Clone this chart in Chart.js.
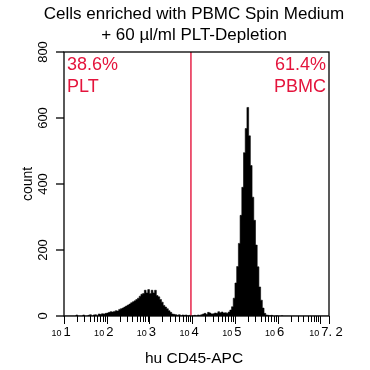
<!DOCTYPE html>
<html>
<head>
<meta charset="utf-8">
<script src="https://cdn.jsdelivr.net/npm/chart.js@4.4.1/dist/chart.umd.min.js"></script>
<style>
  html, body { margin: 0; padding: 0; background: #fff; }
</style>
</head>
<body>
<canvas id="chart" width="370" height="370"></canvas>
<script>
// histogram: log10 bins of hu CD45-APC intensity
const binStart = 1.0;
const binWidth = 0.04;
const counts = [
  0, 0, 0, 0, 0, 0, 0, 3, 0, 0,
  0, 3, 0, 0, 2, 4, 0, 3, 4, 1,
  6, 5, 7, 6, 8, 9, 11, 13, 12, 14,
  16, 15, 20, 22, 24, 27, 30, 33, 36, 40,
  43, 46, 50, 54, 60, 66, 68, 78, 70, 80,
  68, 78, 70, 78, 62, 58, 50, 42, 32, 27,
  22, 16, 11, 6, 5, 4, 2, 4, 1, 3,
  2, 3, 1, 2, 0, 1, 2, 1, 3, 2,
  4, 6, 8, 5, 11, 9, 6, 7, 9, 8,
  13, 10, 12, 9, 10, 8, 12, 18, 28, 54,
  100, 150, 220, 305, 390, 495, 568, 632, 546, 456,
  360, 290, 215, 149, 88, 48, 24, 8, 3, 2,
  1, 2, 0, 0, 1, 0, 0, 1, 0, 0,
  0, 0, 0, 0, 0, 0, 0, 0, 0, 0,
  0, 0, 0, 0, 0, 0, 0, 0, 0, 0,
  0, 0, 0, 0, 0
];
const xMajorTicks = [1, 2, 3, 4, 5, 6, 7, 7.2];
const xLabelValues = [1, 2, 3, 4, 5, 6, 7.2];
const xLabelExponents = ['1', '2', '3', '4', '5', '6', '7. 2'];
const yTickValues = [0, 200, 400, 600, 800];
const gatePosition = 3.97;
const gateLeft = ['38.6%', 'PLT'];
const gateRight = ['61.4%', 'PBMC'];
const titleLines = ['Cells enriched with PBMC Spin Medium', '+ 60 \u00b5l/ml PLT-Depletion'];

const red = 'rgb(228, 20, 60)';
const font = '"Liberation Sans", Arial, sans-serif';

const axesPlugin = {
    id: 'axes',
    afterDraw(chart) {
        const { ctx, chartArea: a, scales: { x, y } } = chart;
        ctx.save();

        // frame
        ctx.strokeStyle = '#000';
        ctx.lineWidth = 1.3;
        ctx.strokeRect(a.left, a.top, a.right - a.left, a.bottom - a.top);

        // y ticks + rotated labels
        ctx.fillStyle = '#000';
        ctx.font = `13px ${font}`;
        ctx.textAlign = 'center';
        ctx.textBaseline = 'middle';
        yTickValues.forEach(v => {
            const py = y.getPixelForValue(v);
            ctx.beginPath();
            ctx.moveTo(a.left - 8, py);
            ctx.lineTo(a.left, py);
            ctx.stroke();
            ctx.save();
            ctx.translate(43, py);
            ctx.rotate(-Math.PI / 2);
            ctx.fillText(String(v), 0, 0);
            ctx.restore();
        });

        // x major + minor ticks (log decades)
        ctx.lineWidth = 1;
        xMajorTicks.forEach(v => {
            const px = Math.round(x.getPixelForValue(v)) + 0.5;
            ctx.beginPath();
            ctx.moveTo(px, a.bottom);
            ctx.lineTo(px, a.bottom + 8);
            ctx.stroke();
        });
        for (let d = 1; d < 7.2; d++) {
            for (let m = 2; m <= 9; m++) {
                const v = d + Math.log10(m);
                if (v > 7.2) break;
                const px = Math.round(x.getPixelForValue(v)) + 0.5;
                ctx.beginPath();
                ctx.moveTo(px, a.bottom);
                ctx.lineTo(px, a.bottom + 6);
                ctx.stroke();
            }
        }

        // x tick labels: small "10" + larger exponent
        ctx.textBaseline = 'alphabetic';
        ctx.textAlign = 'left';
        xLabelValues.forEach((v, i) => {
            const px = x.getPixelForValue(v);
            ctx.font = `9px ${font}`;
            const wBase = ctx.measureText('10').width;
            ctx.font = `13px ${font}`;
            const wExp = ctx.measureText(xLabelExponents[i]).width;
            const start = px - 3 - (wBase + 2 + wExp) / 2;
            ctx.font = `9px ${font}`;
            ctx.fillText('10', start, 336);
            ctx.font = `13px ${font}`;
            ctx.fillText(xLabelExponents[i], start + wBase + 2, 336);
        });

        // axis titles
        ctx.textAlign = 'center';
        ctx.font = `15.5px ${font}`;
        ctx.fillText('hu CD45-APC', 194, 363);
        ctx.save();
        ctx.translate(32, (a.top + a.bottom) / 2);
        ctx.rotate(-Math.PI / 2);
        ctx.font = `14px ${font}`;
        ctx.fillText('count', 0, 0);
        ctx.restore();

        // chart title
        ctx.font = `17px ${font}`;
        ctx.fillText(titleLines[0], 194, 19);
        ctx.fillText(titleLines[1], 194, 40);

        // gate labels
        ctx.fillStyle = red;
        ctx.font = `18px ${font}`;
        ctx.textAlign = 'left';
        ctx.fillText(gateLeft[0], a.left + 3, 70);
        ctx.fillText(gateLeft[1], a.left + 3, 92);
        ctx.textAlign = 'right';
        ctx.fillText(gateRight[0], a.right - 3, 70);
        ctx.fillText(gateRight[1], a.right - 3, 92);

        ctx.restore();
    }
};

const ctx = document.getElementById('chart').getContext('2d');

new Chart(ctx, {
    type: 'line',
    data: {
        datasets: [{
            // gate divider
            data: [{ x: gatePosition, y: 0 }, { x: gatePosition, y: 800 }],
            borderColor: red,
            borderWidth: 1.4,
            pointRadius: 0,
            fill: false,
            order: 0
        }, {
            data: counts.map((c, i) => ({ x: binStart + (i + 0.5) * binWidth, y: c })),
            stepped: 'middle',
            fill: 'origin',
            backgroundColor: '#000',
            borderColor: '#000',
            borderWidth: 0.6,
            pointRadius: 0,
            order: 1
        }]
    },
    options: {
        responsive: false,
        animation: false,
        layout: {
            padding: { left: 64, right: 41, top: 52, bottom: 54 }
        },
        scales: {
            x: { type: 'linear', min: 1, max: 7.2, display: false },
            y: { min: 0, max: 800, display: false }
        },
        plugins: {
            legend: { display: false },
            tooltip: { enabled: false }
        }
    },
    plugins: [axesPlugin]
});
</script>
</body>
</html>
